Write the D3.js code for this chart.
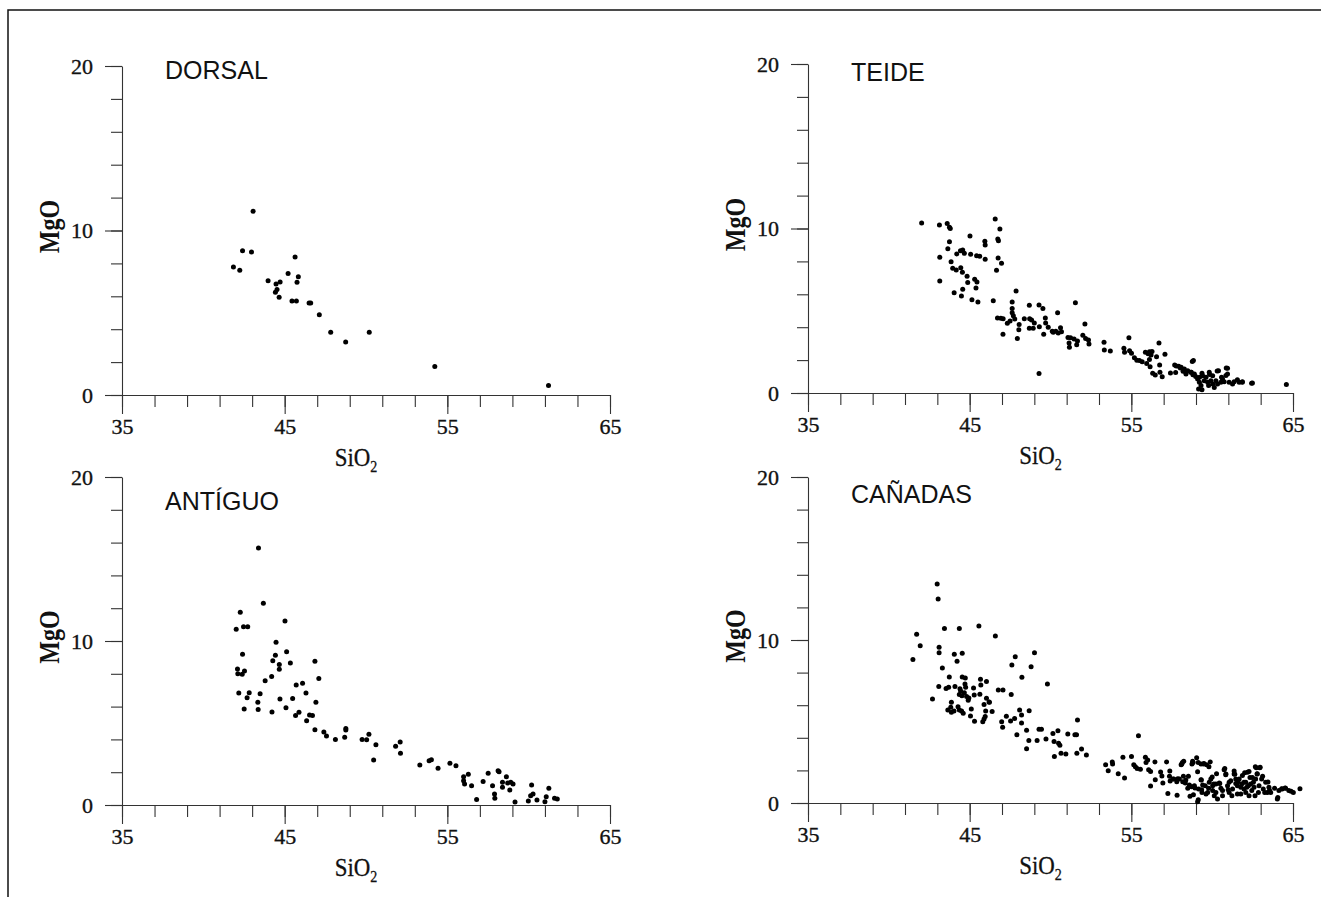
<!DOCTYPE html>
<html>
<head>
<meta charset="utf-8">
<script src="https://cdn.jsdelivr.net/npm/d3@7"></script>
<style>
  body { margin: 0; background: #fff; }
  .tick text { font-family: "Liberation Serif", "Times New Roman", serif; font-size: 22px; fill: #111; stroke: #111; stroke-width: 0.35px; }
  .domain, .tick line { stroke: #333; stroke-width: 1.1; }
</style>
</head>
<body>
<svg id="chart" width="1321" height="897"></svg>
<script>
// ── data: [SiO2, MgO] pairs ──
const dorsal = [
  [43.06,11.17],[42.41,8.77],[42.96,8.69],[41.85,7.78],[42.24,7.58],[45.64,8.39],[43.98,6.95],
  [44.47,6.75],[44.72,6.87],[45.21,7.38],[45.84,7.19],[45.76,6.85],[44.53,6.42],[44.43,6.24],
  [44.66,5.94],[45.45,5.71],[45.72,5.71],[46.50,5.59],[46.60,5.59],[47.13,4.88],[47.83,3.81],
  [48.75,3.22],[50.20,3.81],[54.23,1.74],[61.22,0.57]
];

const teide = [
  [42.03,10.33],[43.13,10.21],[43.61,10.31],[43.75,10.07],[43.8,10.0],[46.58,10.58],[46.87,9.97],
  [45.02,9.54],[46.74,9.36],[46.78,9.26],[45.94,9.22],[45.96,9.00],[43.75,9.20],[43.65,8.77],
  [44.2,8.45],[44.43,8.65],[44.57,8.69],[44.67,8.49],[45.06,8.43],[45.43,8.35],[45.62,8.31],
  [45.96,8.13],[46.76,8.21],[46.97,7.88],[43.15,8.25],[43.85,7.98],[43.95,7.58],[44.17,7.48],
  [44.45,7.62],[44.55,7.34],[44.84,7.09],[45.31,6.91],[45.45,6.75],[44.88,6.71],[46.66,7.46],
  [43.15,6.81],[45.39,6.38],[44.04,6.10],[44.57,6.30],[44.49,5.90],[45.14,5.67],[45.51,5.53],
  [46.46,5.61],[47.87,6.20],[47.63,5.53],[47.63,5.13],[47.63,4.88],[46.72,4.56],[46.93,4.54],
  [47.07,4.52],[47.70,4.70],[47.79,4.50],[47.5,4.38],[47.33,4.24],[48.06,4.17],[48.04,3.85],
  [47.06,3.57],[47.95,3.32],[48.69,5.33],[49.29,5.35],[49.53,5.13],[48.71,4.52],[48.83,4.44],
  [49.0,4.26],[48.69,3.93],[48.93,3.93],[48.38,4.52],[49.31,4.03],[49.68,4.56],[49.7,4.26],
  [49.58,3.57],[49.86,3.99],[50.44,4.88],[50.11,3.75],[50.17,3.69],[50.33,3.75],[50.62,3.97],
  [50.68,3.73],[50.48,3.65],[51.54,5.49],[51.08,3.38],[51.24,3.36],[51.15,3.04],[51.17,2.78],
  [51.46,3.28],[51.67,3.16],[51.62,2.94],[52.13,4.19],[52.0,3.51],[52.17,3.32],[52.35,3.22],
  [52.38,2.98],[49.29,1.18],[53.31,3.08],[53.33,2.61],[53.7,2.55],[54.85,3.36],[54.54,2.72],
  [54.58,2.47],[54.89,2.57],[55.01,2.41],[55.19,2.15],[55.34,1.99],[55.5,1.97],[55.67,1.90],
  [55.87,2.47],[56.04,2.39],[56.12,2.51],[56.22,2.31],[56.28,2.53],[56.71,3.04],[56.56,2.21],
  [56.12,2.03],[55.95,1.80],[56.16,1.60],[56.75,1.70],[57.08,2.35],[56.32,1.20],[56.48,1.09],
  [56.77,1.26],[56.91,0.99],[57.42,1.22],[57.68,1.70],[57.78,1.64],[57.93,1.62],[58.03,1.52],
  [58.2,1.32],[58.38,1.22],[57.74,1.24],[58.77,1.92],[58.71,1.26],[58.81,1.11],[58.98,1.01],
  [59.22,0.95],[59.37,1.20],[59.84,1.13],[60.31,1.34],[60.87,1.52],[60.85,1.07],[60.58,0.95],
  [61.86,0.65],[62.44,0.59],[64.59,0.51],
  [58.84,1.97],[58.08,1.56],[58.28,1.46],[58.49,1.36],[58.69,1.26],[58.9,1.16],[58.38,1.16],
  [59.10,0.85],[59.21,0.65],[59.31,0.45],[59.16,0.24],[59.37,0.20],[59.51,0.75],[59.72,0.65],
  [59.92,0.75],[60.03,0.55],[60.23,0.75],[60.39,1.36],[60.95,1.50],[60.95,1.16],[60.54,0.65],
  [60.74,0.69],[61.05,0.65],[61.36,0.69],[61.67,0.65],[61.87,0.69],[62.49,0.61],[59.41,1.05],
  [59.62,0.95],[59.82,1.26],[60.03,1.05],[60.33,0.55],[60.64,0.85],[61.26,0.55],[61.56,0.81],
  [59.78,0.45],[60.13,0.34]
];

const antiguo = [
  [43.39,15.67],[43.69,12.30],[42.27,11.75],[45.02,11.22],[42.02,10.71],[42.47,10.87],[42.73,10.87],
  [44.47,9.92],[45.12,9.35],[42.41,9.19],[44.43,9.13],[44.27,8.80],[44.67,8.56],[44.67,8.27],
  [45.35,8.66],[46.86,8.76],[42.10,8.29],[42.12,8.01],[42.39,7.97],[42.53,8.17],[47.10,7.72],
  [43.80,7.58],[44.20,7.83],[45.71,7.32],[46.10,7.42],[42.18,6.83],[42.82,6.85],[42.69,6.54],
  [43.49,6.79],[46.31,6.83],[43.35,6.26],[42.51,5.85],[43.37,5.83],[44.22,5.67],[44.71,6.46],
  [45.08,5.93],[45.49,6.50],[46.92,6.26],[45.67,5.45],[45.88,5.65],[46.35,5.14],[46.53,5.49],
  [46.71,5.45],[46.86,4.59],[47.41,4.45],[47.57,4.21],[48.12,4.00],[48.69,4.13],[48.76,4.57],
  [48.76,4.67],[49.76,4.00],[50.04,3.98],[50.18,4.31],[50.61,3.68],[50.47,2.74],[51.82,3.58],
  [52.10,3.84],[52.12,3.15],[53.31,2.44],[53.88,2.70],[54.02,2.76],[54.43,2.24],[55.16,2.54],
  [55.53,2.40],[56.0,1.73],[56.29,1.87],[56.0,1.48],[56.06,1.28],[56.49,1.18],[56.80,0.33],
  [57.20,1.44],[57.51,1.93],[57.78,1.18],[57.90,0.67],[57.92,0.41],[58.12,2.09],[58.18,2.03],
  [58.39,1.38],[58.39,1.08],[58.63,1.73],[58.71,1.34],[58.84,0.91],[58.90,1.38],[59.04,1.28],
  [59.16,0.18],[59.98,0.24],[60.12,0.57],[60.18,1.22],[60.27,0.67],[60.51,0.30],[61.0,0.20],
  [61.08,0.51],[61.24,1.02],[61.59,0.41],[61.76,0.37]
];

const canadas = [
  [42.99,13.44],[43.05,12.52],[43.44,10.70],[44.36,10.70],[45.57,10.86],[46.59,10.25],[41.72,10.35],
  [41.94,9.65],[41.49,8.81],[43.11,9.55],[43.11,9.22],[44.05,9.12],[44.54,9.18],[44.22,8.69],
  [43.31,8.28],[49.01,9.22],[47.82,8.98],[47.61,8.47],[48.80,8.36],[48.23,7.71],[49.81,7.30],
  [43.74,7.73],[44.54,7.73],[44.73,7.67],[45.67,7.59],[46.04,7.46],[43.09,7.14],[43.54,7.03],
  [43.70,7.10],[44.09,7.14],[44.40,7.01],[44.71,7.30],[44.75,7.10],[45.24,7.06],[45.69,7.24],
  [44.44,6.87],[44.67,6.77],[44.36,6.65],[44.52,6.58],[44.81,6.54],[44.95,6.44],[44.91,6.30],
  [45.28,6.63],[45.63,6.67],[46.04,6.42],[46.20,6.20],[45.89,6.05],[46.77,6.93],[47.06,6.93],
  [47.57,6.65],[42.70,6.38],[43.87,6.18],[43.65,5.71],[43.83,5.87],[43.87,5.56],[44.03,5.64],
  [44.28,5.91],[44.36,5.71],[44.50,5.64],[44.60,5.50],[45.10,5.77],[45.05,5.34],[45.30,5.01],
  [45.81,4.99],[45.96,5.30],[45.89,5.15],[45.99,5.64],[46.22,6.18],[46.39,5.62],[46.98,4.99],
  [47.04,4.64],[47.27,5.32],[47.53,5.03],[47.78,5.19],[48.09,5.71],[48.21,5.40],[48.21,4.91],
  [48.68,5.66],[47.92,4.19],[48.52,4.46],[48.66,3.84],[48.52,3.33],[49.17,3.84],[49.29,4.52],
  [49.44,4.52],[49.72,3.93],[50.15,4.27],[50.22,3.78],[50.46,4.44],[50.50,3.66],[50.58,3.54],
  [50.24,2.86],[50.65,3.05],[50.95,3.01],[51.07,4.23],[51.51,4.19],[51.61,4.19],[51.67,5.09],
  [51.63,3.05],[51.92,3.31],[52.22,2.94],
  [55.44,4.13],[53.41,2.35],[53.82,2.52],[53.84,2.39],[53.57,1.98],[54.19,1.80],[54.58,1.53],
  [54.48,2.80],[55.01,2.86],[55.15,2.35],[55.25,2.23],[55.36,2.11],[55.56,2.07],[55.87,2.80],
  [56.01,2.64],[55.91,2.49],[56.07,2.04],[56.19,1.94],[56.46,2.52],[56.48,1.43],[56.19,1.04],
  [56.81,1.90],[56.89,1.66],[56.95,1.23],[57.18,2.52],[57.38,1.96],[57.36,1.64],[57.40,1.35],
  [57.26,0.59],[57.63,1.47],[57.87,1.49],[57.83,0.47],[58.08,2.35],[58.16,2.49],[58.22,1.64],
  [58.37,1.41],[58.53,1.64],[58.63,0.41],[58.73,1.00],[58.82,2.49],[59.04,2.78],[59.14,2.49],
  [59.10,1.92],[59.49,2.43],[59.80,2.23],[59.88,2.52],[59.33,1.41],[59.35,0.82],[59.14,0.20],
  [58.94,0.92],[60.0,1.60],[60.10,1.17],[60.27,1.80],[60.33,0.25],[60.47,1.19],[60.78,2.11],
  [60.84,1.74],[60.99,0.82],[61.36,1.96],[61.40,1.76],[61.60,1.31],[62.01,1.86],[62.28,1.94],
  [62.67,2.23],[62.97,2.19],[62.78,1.80],[63.12,1.64],[63.45,1.29],[63.55,0.78],[64.06,0.33],
  [63.86,0.90],[64.30,0.88],[64.51,0.92],[64.88,0.72],[65.02,0.65],[65.43,0.88],
  [58.12,2.39],[58.24,2.56],[58.79,2.56],[59.31,2.39],[59.47,2.39],[59.66,2.35],[58.75,2.39],
  [57.56,1.47],[57.81,1.31],[57.97,1.47],[58.18,1.31],[58.34,1.23],[58.59,1.10],[58.49,0.90],
  [58.84,0.51],[59.10,0.08],[58.9,1.06],[59.16,0.86],[59.31,1.43],[59.37,0.65],[59.62,0.55],
  [59.78,0.90],[59.92,1.47],[60.03,1.06],[60.23,0.65],[60.44,1.23],[60.54,0.90],[60.64,0.76],
  [60.74,2.04],[60.85,1.78],[60.95,1.06],[61.05,0.65],[61.15,1.37],[61.26,0.86],[61.36,1.78],
  [61.46,1.19],[61.56,0.55],[61.67,1.47],[61.77,0.96],[61.87,1.68],[61.97,1.27],[62.08,0.65],
  [62.18,1.88],[62.24,1.06],[62.34,1.57],[62.45,0.76],[62.55,1.27],[62.65,0.45],[62.73,2.17],
  [62.94,2.17],[62.79,1.78],[62.90,1.06],[63.06,1.47],[63.16,0.86],[63.31,1.27],[63.41,0.65],
  [62.69,1.47],[61.56,1.06],[61.97,0.86],[61.77,0.55],[61.22,0.45],[60.64,0.45],[60.13,0.45],
  [59.82,1.27],[59.57,1.06],[62.28,0.45],[62.49,1.57],[62.38,1.17],[62.08,1.27],[61.46,1.47],
  [61.05,1.27],[60.23,1.17],[59.41,1.10],[60.03,0.76],[59.72,0.65],[61.83,1.17],[62.14,0.96],
  [62.59,0.96],[62.86,0.65],[63.25,0.65],[63.51,0.96],[63.62,0.65],[64.03,0.25],[64.13,0.76],
  [64.33,0.86],[64.54,0.90],[64.74,0.76]
];

const titles = ["DORSAL", "TEIDE", "ANTÍGUO", "CAÑADAS"];
const xDomain = [35, 65], yDomain = [0, 20];
const xMajor = [35, 45, 55, 65], yMajor = [0, 10, 20];
const xMinor = d3.range(35, 66, 2), yMinor = d3.range(0, 21, 2);

// ── layout ──
const layout = [
  { data: dorsal,  x0: 122, x1: 610,  yt: 66,  yb: 395, ty: 79 },
  { data: teide,   x0: 808, x1: 1293, yt: 64,  yb: 393, ty: 81 },
  { data: antiguo, x0: 122, x1: 610,  yt: 477, yb: 805, ty: 510 },
  { data: canadas, x0: 808, x1: 1293, yt: 477, yb: 803, ty: 503 }
];

const svg = d3.select("#chart");

// frame (top + left edge of the page box)
svg.append("path").attr("d", "M8,897V10H1321")
  .attr("fill", "none").attr("stroke", "#111").attr("stroke-width", 1.5);

layout.forEach((p, i) => {
  const x = d3.scaleLinear().domain(xDomain).range([p.x0, p.x1]);
  const y = d3.scaleLinear().domain(yDomain).range([p.yb, p.yt]);
  const g = svg.append("g");

  // minor ticks
  g.append("g").attr("transform", `translate(0,${p.yb})`)
    .call(d3.axisBottom(x).tickValues(xMinor).tickSize(12).tickSizeOuter(0).tickFormat(""));
  g.append("g").attr("transform", `translate(${p.x0},0)`)
    .call(d3.axisLeft(y).tickValues(yMinor).tickSize(11).tickSizeOuter(0).tickFormat(""));
  // major ticks + labels
  g.append("g").attr("transform", `translate(0,${p.yb})`)
    .call(d3.axisBottom(x).tickValues(xMajor).tickSize(19).tickPadding(4).tickSizeOuter(0))
    .call(a => a.select(".domain").remove());
  g.append("g").attr("transform", `translate(${p.x0},0)`)
    .call(d3.axisLeft(y).tickValues(yMajor).tickSize(17).tickPadding(12).tickSizeOuter(0))
    .call(a => a.select(".domain").remove());

  // axis titles (condensed serif look)
  const sx = g.append("text")
    .attr("transform", `translate(${(p.x0 + p.x1) / 2 - 10},${p.yb + 71}) scale(0.88,1)`)
    .attr("text-anchor", "middle")
    .style("font-family", "Liberation Serif, serif").style("font-size", "26px")
    .style("fill", "#111").style("stroke", "#111").style("stroke-width", "0.3px");
  sx.append("tspan").text("SiO");
  sx.append("tspan").attr("dy", 6).style("font-size", "16px").text("2");

  g.append("text")
    .attr("transform", `translate(${p.x0 - 63},${(p.yt + p.yb) / 2 - 4}) rotate(-90) scale(0.8,1)`)
    .attr("text-anchor", "middle")
    .style("font-family", "Liberation Serif, serif").style("font-size", "30px")
    .style("font-weight", "bold").style("fill", "#111")
    .text("MgO");

  // panel title
  g.append("text").attr("x", p.x0 + 43).attr("y", p.ty)
    .style("font-family", "Liberation Sans, Arial, sans-serif").style("font-size", "25px")
    .style("fill", "#111").text(titles[i]);

  // points
  g.append("g").selectAll("circle").data(p.data).join("circle")
    .attr("cx", d => x(d[0])).attr("cy", d => y(d[1]))
    .attr("r", 2.5).attr("fill", "#000");
});
</script>
</body>
</html>
